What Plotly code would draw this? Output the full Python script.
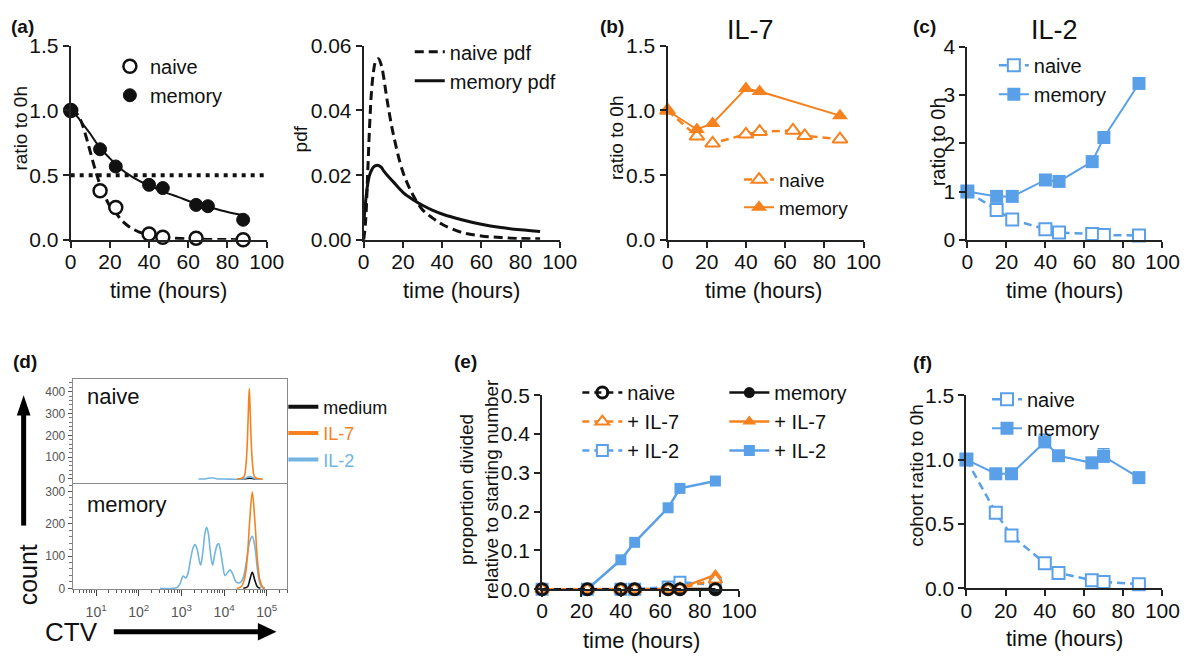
import plotly.graph_objects as go

W, H = 1200, 664
FONT = "Liberation Sans, Arial, sans-serif"
ORANGE = "#F5821F"
BLUE = "#5AA0E8"
HBLUE = "#72B4E2"
AX = "#222222"

# ---------------- data ----------------
# (a) survival ratio
t_a_naive = [0, 15, 23, 40, 47, 64, 88]
a_naive = [1.0, 0.38, 0.25, 0.045, 0.02, 0.013, 0.0]
t_a_mem = [0, 15, 23, 40, 47, 64, 70, 88]
a_mem = [1.0, 0.70, 0.567, 0.425, 0.40, 0.27, 0.26, 0.155]
fit_t_naive = [0, 2, 4, 6, 8, 10, 12, 14, 16, 18, 20, 23, 26, 30, 35, 40, 45, 50, 60, 70, 80, 88]
fit_naive = [1.0, 0.99, 0.96, 0.89, 0.79, 0.68, 0.57, 0.47, 0.39, 0.32, 0.26, 0.21, 0.15, 0.10, 0.06, 0.04, 0.025, 0.016, 0.007, 0.003, 0.002, 0.001]
fit_t_mem = [0, 2, 4, 6, 8, 10, 15, 20, 25, 30, 35, 40, 47, 55, 64, 70, 80, 88]
fit_mem = [1.0, 0.975, 0.94, 0.90, 0.86, 0.82, 0.71, 0.63, 0.555, 0.50, 0.455, 0.42, 0.375, 0.33, 0.28, 0.255, 0.215, 0.19]
half_t = [0, 100]
half_y = [0.5, 0.5]

# (a) pdf
pdf_t = [0, 1, 2, 3, 4, 5, 6, 7.5, 9, 10, 12, 15, 20, 25, 30, 35, 40, 50, 60, 70, 80, 90]
pdf_naive = [0.0, 0.006, 0.02, 0.035, 0.046, 0.052, 0.055, 0.056, 0.054, 0.051, 0.043, 0.033, 0.021, 0.014, 0.0093, 0.0068, 0.0048, 0.0023, 0.0012, 0.0007, 0.0004, 0.0003]
pdf_mem = [0.005, 0.012, 0.017, 0.020, 0.0215, 0.0225, 0.0229, 0.023, 0.0224, 0.0215, 0.020, 0.018, 0.0147, 0.0125, 0.0107, 0.0092, 0.008, 0.0062, 0.0048, 0.0038, 0.0031, 0.0026]

# (b) IL-7
t_b_naive = [0, 15, 23, 40, 47, 64, 70, 88]
b_naive = [1.0, 0.80, 0.746, 0.816, 0.836, 0.846, 0.804, 0.778]
t_b_mem = [0, 15, 23, 40, 47, 88]
b_mem = [1.0, 0.853, 0.90, 1.17, 1.147, 0.96]

# (c) IL-2
t_c = [0, 15, 23, 40, 47, 64, 70, 88]
c_naive = [1.0, 0.62, 0.42, 0.22, 0.15, 0.12, 0.10, 0.09]
c_mem = [1.0, 0.9, 0.9, 1.24, 1.21, 1.62, 2.12, 3.24]

# (d) CTV histograms (log10 CTV, count)
d_naive_il7_x = [4.30, 4.40, 4.47, 4.51, 4.54, 4.565, 4.59, 4.615, 4.64, 4.67, 4.71, 4.78, 4.90]
d_naive_il7_y = [0, 2, 12, 60, 150, 290, 415, 290, 150, 60, 12, 2, 0]
d_naive_il2_x = [3.40, 3.55, 3.65, 3.75, 3.85, 4.00, 4.45, 4.55, 4.60, 4.65, 4.75, 4.90]
d_naive_il2_y = [0, 0, 4, 4, 0, 0, 0, 8, 12, 8, 0, 0]
d_naive_med_x = [4.40, 4.50, 4.60, 4.70, 4.80]
d_naive_med_y = [0, 1, 3, 1, 0]
d_mem_il2_x = [2.50, 2.80, 2.90, 2.97, 3.04, 3.10, 3.15, 3.22, 3.28, 3.32, 3.37, 3.42, 3.45, 3.50, 3.55, 3.59, 3.63, 3.68, 3.73, 3.78, 3.84, 3.87, 3.91, 3.97, 4.02, 4.08, 4.14, 4.20, 4.28, 4.37, 4.44, 4.52, 4.60, 4.66, 4.72, 4.78, 4.84, 4.90, 4.95]
d_mem_il2_y = [0, 0, 3, 15, 38, 32, 45, 95, 128, 136, 120, 85, 72, 110, 170, 189, 170, 110, 72, 105, 135, 139, 120, 70, 40, 48, 57, 45, 20, 17, 30, 80, 145, 161, 130, 60, 15, 2, 0]
d_mem_il7_x = [4.30, 4.40, 4.48, 4.54, 4.60, 4.66, 4.72, 4.78, 4.84, 4.90, 4.95]
d_mem_il7_y = [0, 5, 30, 90, 210, 298, 210, 90, 25, 5, 0]
d_mem_med_x = [4.45, 4.55, 4.60, 4.66, 4.72, 4.78, 4.85]
d_mem_med_y = [0, 5, 25, 50, 25, 5, 0]
d_xtick_vals = [10, 100, 1000, 10000, 100000]
d_xtick_text = ["10<sup>1</sup>", "10<sup>2</sup>", "10<sup>3</sup>", "10<sup>4</sup>", "10<sup>5</sup>"]

# (e) proportion divided
t_e = [0, 23, 40, 47, 64, 70, 88]
e_naive_med = [0, 0, 0, 0, 0, 0, 0]
e_naive_il7 = [0, 0, 0, 0, 0, 0.002, 0.025]
e_naive_il2 = [0, 0, 0, 0, 0.006, 0.018, 0.012]
e_mem_med = [0, 0, 0, 0, 0, 0, 0.001]
e_mem_il7 = [0, 0, 0, 0, 0, 0.003, 0.037]
e_mem_il2 = [0, 0, 0.076, 0.121, 0.21, 0.26, 0.279]

# (f) cohort ratio
t_f = [0, 15, 23, 40, 47, 64, 70, 88]
f_naive = [1.0, 0.5875, 0.41, 0.195, 0.12, 0.0625, 0.05, 0.0325]
f_mem = [1.0, 0.89, 0.89, 1.1375, 1.03, 0.975, 1.025, 0.86]
f_mem_err = [0, 0, 0, 0.06, 0, 0, 0.06, 0]

time_ticks = [0, 20, 40, 60, 80, 100]

# ---------------- helpers ----------------
def dx(a, b):
    return [a / W, b / W]

def dy(top, bottom):
    return [1 - bottom / H, 1 - top / H]

def lin_axis(**kw):
    d = dict(showline=True, linecolor=AX, linewidth=2, ticks="outside", ticklen=6,
             tickwidth=2, tickcolor=AX, showgrid=False, zeroline=False,
             tickfont=dict(size=21, family=FONT, color="#111"), fixedrange=True)
    d.update(kw)
    return d

fig = go.Figure()

def add(tr):
    tr.update(cliponaxis=False)
    fig.add_trace(tr)

# (a) left
add(go.Scatter(x=half_t, y=half_y, mode="lines", line=dict(color="#111", width=4, dash="4px,5px"),
               showlegend=False, xaxis="x", yaxis="y"))
add(go.Scatter(x=fit_t_naive, y=fit_naive, mode="lines", line=dict(color="#111", width=3, dash="9px,5px", shape="spline"),
               showlegend=False, xaxis="x", yaxis="y"))
add(go.Scatter(x=fit_t_mem, y=fit_mem, mode="lines", line=dict(color="#111", width=2, shape="spline"),
               showlegend=False, xaxis="x", yaxis="y"))
add(go.Scatter(x=t_a_naive, y=a_naive, mode="markers", name="naive",
               marker=dict(symbol="circle", size=13, color="white", line=dict(color="#111", width=2.5)),
               xaxis="x", yaxis="y", legend="legend"))
add(go.Scatter(x=t_a_mem, y=a_mem, mode="markers", name="memory",
               marker=dict(symbol="circle", size=13, color="#111", line=dict(color="#111", width=1)),
               xaxis="x", yaxis="y", legend="legend"))

# (a) right pdf
add(go.Scatter(x=pdf_t, y=pdf_naive, mode="lines", name="naive pdf",
               line=dict(color="#111", width=3, dash="9px,5px", shape="spline"),
               xaxis="x2", yaxis="y2", legend="legend2"))
add(go.Scatter(x=pdf_t, y=pdf_mem, mode="lines", name="memory pdf",
               line=dict(color="#111", width=3, shape="spline"),
               xaxis="x2", yaxis="y2", legend="legend2"))

# (b)
add(go.Scatter(x=t_b_naive, y=b_naive, mode="lines+markers", name="naive",
               line=dict(color=ORANGE, width=2.5, dash="8px,5px"),
               marker=dict(symbol="triangle-up", size=13, color="white", line=dict(color=ORANGE, width=2)),
               xaxis="x3", yaxis="y3", legend="legend3"))
add(go.Scatter(x=t_b_mem, y=b_mem, mode="lines+markers", name="memory",
               line=dict(color=ORANGE, width=2),
               marker=dict(symbol="triangle-up", size=14, color=ORANGE),
               xaxis="x3", yaxis="y3", legend="legend3"))

# (c)
add(go.Scatter(x=t_c, y=c_naive, mode="lines+markers", name="naive",
               line=dict(color=BLUE, width=2.5, dash="8px,5px"),
               marker=dict(symbol="square", size=12, color="white", line=dict(color=BLUE, width=2)),
               xaxis="x4", yaxis="y4", legend="legend4"))
add(go.Scatter(x=t_c, y=c_mem, mode="lines+markers", name="memory",
               line=dict(color=BLUE, width=2),
               marker=dict(symbol="square", size=13, color=BLUE),
               xaxis="x4", yaxis="y4", legend="legend4"))

# (d)
def lx(v):
    return [10 ** a for a in v]

hist = [
    (d_naive_med_x, d_naive_med_y, "#111", "x5", "y5"),
    (d_naive_il2_x, d_naive_il2_y, HBLUE, "x5", "y5"),
    (d_naive_il7_x, d_naive_il7_y, ORANGE, "x5", "y5"),
    (d_mem_il2_x, d_mem_il2_y, HBLUE, "x6", "y6"),
    (d_mem_il7_x, d_mem_il7_y, ORANGE, "x6", "y6"),
    (d_mem_med_x, d_mem_med_y, "#111", "x6", "y6"),
]
for xs, ys, col, xa, ya in hist:
    fig.add_trace(go.Scatter(x=lx(xs), y=ys, mode="lines", line=dict(color=col, width=1.6, shape="spline"),
                             showlegend=False, xaxis=xa, yaxis=ya))
for nm, col in [("medium", "#111"), ("IL-7", ORANGE), ("IL-2", HBLUE)]:
    fig.add_trace(go.Scatter(x=[None], y=[None], mode="lines", line=dict(color=col, width=4),
                             name=f"<span style='color:{col}'>{nm}</span>",
                             xaxis="x6", yaxis="y6", legend="legend5"))

# (e) (drawn so black circles sit on top)
add(go.Scatter(x=t_e, y=e_mem_med, mode="lines+markers", name="memory", legendrank=1,
               line=dict(color="#111", width=2.5), marker=dict(symbol="circle", size=11, color="#111"),
               xaxis="x7", yaxis="y7", legend="legend7"))
add(go.Scatter(x=t_e, y=e_mem_il2, mode="lines+markers", name="+ IL-2", legendrank=3,
               line=dict(color=BLUE, width=2.5), marker=dict(symbol="square", size=11, color=BLUE),
               xaxis="x7", yaxis="y7", legend="legend7"))
add(go.Scatter(x=t_e, y=e_naive_il2, mode="lines+markers", name="+ IL-2", legendrank=3,
               line=dict(color=BLUE, width=2.5, dash="7px,5px"),
               marker=dict(symbol="square", size=11, color="white", line=dict(color=BLUE, width=2)),
               xaxis="x7", yaxis="y7", legend="legend6"))
add(go.Scatter(x=t_e, y=e_mem_il7, mode="lines+markers", name="+ IL-7", legendrank=2,
               line=dict(color=ORANGE, width=2.5), marker=dict(symbol="triangle-up", size=12, color=ORANGE),
               xaxis="x7", yaxis="y7", legend="legend7"))
add(go.Scatter(x=t_e, y=e_naive_il7, mode="lines+markers", name="+ IL-7", legendrank=2,
               line=dict(color=ORANGE, width=2.5, dash="7px,5px"),
               marker=dict(symbol="triangle-up", size=12, color="white", line=dict(color=ORANGE, width=2)),
               xaxis="x7", yaxis="y7", legend="legend6"))
add(go.Scatter(x=t_e, y=e_naive_med, mode="lines+markers", name="naive", legendrank=1,
               line=dict(color="#111", width=2.5, dash="7px,5px"),
               marker=dict(symbol="circle-open", size=11, color="#111", line=dict(width=3)),
               xaxis="x7", yaxis="y7", legend="legend6"))

# (f)
add(go.Scatter(x=t_f, y=f_naive, mode="lines+markers", name="naive",
               line=dict(color=BLUE, width=2.5, dash="8px,5px"),
               marker=dict(symbol="square", size=12, color="white", line=dict(color=BLUE, width=2)),
               xaxis="x8", yaxis="y8", legend="legend8"))
add(go.Scatter(x=t_f, y=f_mem, mode="lines+markers", name="memory",
               line=dict(color=BLUE, width=2),
               marker=dict(symbol="square", size=13, color=BLUE),
               error_y=dict(type="data", array=f_mem_err, arrayminus=[0] * len(f_mem_err), symmetric=False,
                            color=BLUE, thickness=1.5, width=6),
               xaxis="x8", yaxis="y8", legend="legend8"))

# ---------------- axes ----------------
tx = dict(tickvals=time_ticks, range=[0, 100], ticklabelstandoff=-4)
fig.update_layout(
    xaxis=lin_axis(domain=dx(66, 266), anchor="y", **tx),
    yaxis=lin_axis(domain=dy(35, 236), anchor="x", range=[0, 1.5], tickvals=[0, 0.5, 1.0, 1.5], tickformat=".1f"),
    xaxis2=lin_axis(domain=dx(365, 565), anchor="y2", **tx),
    yaxis2=lin_axis(domain=dy(35, 236), anchor="x2", range=[0, 0.06], tickvals=[0, 0.02, 0.04, 0.06], tickformat=".2f"),
    xaxis3=lin_axis(domain=dx(675, 875), anchor="y3", **tx),
    yaxis3=lin_axis(domain=dy(35, 236), anchor="x3", range=[0, 1.5], tickvals=[0, 0.5, 1.0, 1.5], tickformat=".1f"),
    xaxis4=lin_axis(domain=dx(981, 1180), anchor="y4", **tx),
    yaxis4=lin_axis(domain=dy(36, 236), anchor="x4", range=[0, 4], tickvals=[0, 1, 2, 3, 4]),
    xaxis7=lin_axis(domain=dx(547, 748), anchor="y7", **tx),
    yaxis7=lin_axis(domain=dy(397, 598), anchor="x7", range=[0, 0.5], tickvals=[0, 0.1, 0.2, 0.3, 0.4, 0.5], tickformat=".1f"),
    xaxis8=lin_axis(domain=dx(980, 1180), anchor="y8", **tx),
    yaxis8=lin_axis(domain=dy(397, 597), anchor="x8", range=[0, 1.5], tickvals=[0, 0.5, 1.0, 1.5], tickformat=".1f"),
)

minor_log = [m * 10 ** k for k in range(0, 6) for m in range(2, 10)]
gray_font = dict(size=12, family=FONT, color="#555")
box = dict(showline=True, mirror=True, linecolor="#8a8a8a", linewidth=1, showgrid=False, zeroline=False, fixedrange=True)
fig.update_layout(
    xaxis5=dict(box, type="log", domain=dx(68, 287), anchor="y5", range=[0.45, 5.48], showticklabels=False, ticks=""),
    yaxis5=dict(box, domain=dy(380, 488), anchor="x5", range=[-19, 459], tickvals=[0, 100, 200, 300, 400],
                ticks="outside", ticklen=4, tickcolor="#555", tickfont=gray_font,
                minor=dict(ticks="outside", ticklen=3, tickcolor="#777", dtick=20)),
    xaxis6=dict(box, type="log", domain=dx(68, 287), anchor="y6", range=[0.45, 5.48],
                tickvals=d_xtick_vals, ticktext=d_xtick_text, ticks="outside", ticklen=6, tickcolor="#444",
                tickfont=dict(size=14, family=FONT, color="#555"), ticklabelstandoff=4,
                minor=dict(ticks="outside", ticklen=3, tickcolor="#555", tickvals=minor_log)),
    yaxis6=dict(box, domain=dy(489, 598), anchor="x6", range=[-3, 323], tickvals=[0, 100, 200, 300],
                ticks="outside", ticklen=4, tickcolor="#555", tickfont=gray_font,
                minor=dict(ticks="outside", ticklen=3, tickcolor="#777", dtick=20)),
)

# ---------------- legends ----------------
def leg(xpx, ypx, size=20, itemwidth=30):
    return dict(x=xpx / W, y=1 - ypx / H, xanchor="left", yanchor="top", bgcolor="rgba(0,0,0,0)",
                font=dict(size=size, family=FONT, color="#111"), itemwidth=itemwidth,
                tracegroupgap=0, itemclick=False, itemdoubleclick=False)

fig.update_layout(
    showlegend=True,
    legend=leg(106, 36),
    legend2=leg(412, 21),
    legend3=leg(748, 154, size=19),
    legend4=leg(1008, 35),
    legend5=leg(283, 390, size=18),
    legend6=leg(583, 374, itemwidth=40),
    legend7=leg(733, 374, itemwidth=40),
    legend8=leg(1001, 381),
)

# ---------------- annotations ----------------
ann = []

def text(s, xpx, ypx, size=18, bold=False, angle=0, color="#111", xanchor="center"):
    ann.append(dict(text=f"<b>{s}</b>" if bold else s, x=xpx / W, y=1 - ypx / H, xref="paper", yref="paper",
                    showarrow=False, textangle=angle, xanchor=xanchor, yanchor="middle",
                    font=dict(size=size, family=FONT, color=color)))

for s, x, y in [("(a)", 17, 15), ("(b)", 618, 15), ("(c)", 937, 15), ("(d)", 19, 362), ("(e)", 469, 362), ("(f)", 935, 363)]:
    text(s, x, y, size=19, bold=True)
text("IL-7", 760, 19, size=27)
text("IL-2", 1070, 19, size=27)
for x in (166, 465, 773, 1080):
    text("time (hours)", x, 288, size=22)
text("time (hours)", 648, 651, size=22)
text("time (hours)", 1080, 649, size=22)
text("ratio to 0h", 15, 120, size=19, angle=-90)
text("pdf", 300, 132, size=19, angle=-90)
text("ratio to 0h", 623, 130, size=19, angle=-90)
text("ratio to 0h", 951, 134, size=20, angle=-90)
text("proportion divided<br>relative to starting number", 483, 494, size=19, angle=-90)
text("cohort ratio to 0h", 929, 480, size=19, angle=-90)
text("naive", 81, 398, size=22, xanchor="left")
text("memory", 81, 510, size=22, xanchor="left")
text("count", 22, 583, size=25, angle=-90)
text("CTV", 67, 642, size=26)

fig.update_layout(annotations=ann)

# big arrows (decorative)
shapes = [
    dict(type="line", xref="paper", yref="paper", x0=18 / W, x1=18 / W, y0=1 - 532 / H, y1=1 - 416 / H,
         line=dict(color="#000", width=5)),
    dict(type="path", xref="paper", yref="paper",
         path=f"M {11/W} {1-418/H} L {25/W} {1-418/H} L {18/W} {1-397/H} Z", fillcolor="#000", line=dict(width=0)),
    dict(type="line", xref="paper", yref="paper", x0=110 / W, x1=259 / W, y0=1 - 642 / H, y1=1 - 642 / H,
         line=dict(color="#000", width=5)),
    dict(type="path", xref="paper", yref="paper",
         path=f"M {257/W} {1-633/H} L {257/W} {1-651/H} L {276/W} {1-642/H} Z", fillcolor="#000", line=dict(width=0)),
]

fig.update_layout(shapes=shapes, width=W, height=H, margin=dict(l=0, r=0, t=0, b=0),
                  paper_bgcolor="white", plot_bgcolor="rgba(0,0,0,0)",
                  font=dict(family=FONT, color="#111"))

fig.write_html("out.html", config={"displayModeBar": False})
